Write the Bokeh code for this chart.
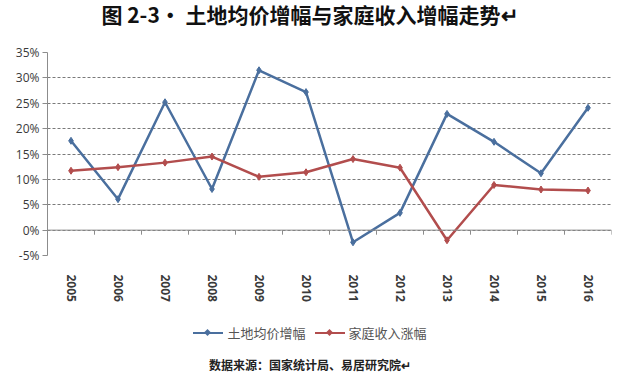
from bokeh.plotting import figure
from bokeh.models import Range1d, FixedTicker, LinearAxis, Span, Grid, Div
from bokeh.layouts import column
from bokeh.embed import file_html
from bokeh.resources import INLINE

years = ["2005", "2006", "2007", "2008", "2009", "2010", "2011", "2012", "2013", "2014", "2015", "2016"]
land_price_growth = [17.6, 6.1, 25.2, 8.1, 31.5, 27.2, -2.4, 3.4, 22.9, 17.4, 11.2, 24.1]
income_growth = [11.7, 12.4, 13.3, 14.5, 10.5, 11.4, 14.0, 12.3, -2.0, 8.9, 8.0, 7.8]
y_ticks = [-5, 0, 5, 10, 15, 20, 25, 30, 35]
series_names = ["土地均价增幅", "家庭收入涨幅"]
title_text = "图 2-3· 土地均价增幅与家庭收入增幅走势↵"
source_text = "数据来源：国家统计局、易居研究院↵"

idx = list(range(1, len(years) + 1))
bounds = [i - 0.5 for i in idx] + [idx[-1] + 0.5]

BLUE = "#4a6f9e"
RED = "#b24d4d"
TXT = "#3a3a3a"
AX = "#8c8c8c"
FONT = "Open Sans"
CJK = "Noto Sans CJK SC"
COLORS = [BLUE, RED]

FW, FH = 564, 203
p = figure(frame_width=FW, frame_height=FH, output_backend="svg", toolbar_location=None,
           x_range=Range1d(0.5, 12.5), y_range=Range1d(-5, 35),
           x_axis_type=None, y_axis_type=None,
           min_border_left=47, min_border_right=9, min_border_top=10, min_border_bottom=45)
p.outline_line_color = None
p.background_fill_color = "white"
p.margin = 0

# y axis
yax = LinearAxis(ticker=FixedTicker(ticks=y_ticks))
yax.major_label_overrides = {v: f"{v}%" for v in y_ticks}
yax.axis_line_color = AX
yax.major_tick_line_color = AX
yax.major_tick_out = 5
yax.major_tick_in = 0
yax.minor_tick_line_color = None
yax.major_label_text_font = FONT
yax.major_label_text_font_size = "12px"
yax.major_label_text_color = TXT
yax.major_label_standoff = 3
p.add_layout(yax, "left")

# bottom labels axis
xax = LinearAxis(ticker=FixedTicker(ticks=idx))
xax.major_label_overrides = {i: y for i, y in zip(idx, years)}
xax.axis_line_color = None
xax.major_tick_line_color = None
xax.minor_tick_line_color = None
xax.major_label_orientation = "vertical"
xax.major_label_text_font = FONT
xax.major_label_text_font_size = "12px"
xax.major_label_text_font_style = "bold"
xax.major_label_text_color = TXT
xax.major_label_standoff = 13
p.add_layout(xax, "below")

grid = Grid(dimension=1, ticker=FixedTicker(ticks=y_ticks),
            grid_line_color="#7a7a7a", grid_line_dash="3 2", grid_line_width=1)
p.add_layout(grid)

# zero line with category-boundary ticks
p.add_layout(Span(location=0, dimension="width", line_color=AX, line_width=1))
tick_len = 0.9
p.segment(x0=bounds, y0=[0] * len(bounds), x1=bounds, y1=[-tick_len] * len(bounds),
          line_color=AX, line_width=1)

p.line(idx, land_price_growth, line_color=BLUE, line_width=2.5)
p.scatter(idx, land_price_growth, marker="diamond", size=7, fill_color=BLUE, line_color=BLUE)
p.line(idx, income_growth, line_color=RED, line_width=2.5)
p.scatter(idx, income_growth, marker="diamond", size=7, fill_color=RED, line_color=RED)


def legend_entry(name, color, gap):
    return (
        f'<span style="display:inline-block;position:relative;width:30px;height:12px;'
        f'vertical-align:middle;margin-left:{gap}px;">'
        f'<span style="position:absolute;left:0;top:5px;width:30px;height:2px;background:{color};"></span>'
        f'<span style="position:absolute;left:12px;top:3px;width:5px;height:5px;background:{color};'
        f'transform:rotate(45deg);"></span></span>'
        f'<span style="margin-left:4px;vertical-align:middle;">{name}</span>'
    )


legend_html = "".join(legend_entry(n, c, 0 if i == 0 else 9)
                      for i, (n, c) in enumerate(zip(series_names, COLORS)))

title_div = Div(text=title_text, width=620, height=42, margin=0,
                styles={"font-family": CJK, "font-size": "21px", "font-weight": "bold",
                        "line-height": "28px", "text-align": "center", "color": "#111111",
                        "width": "620px"})
legend_div = Div(text=legend_html, width=620, height=40, margin=0,
                 styles={"font-family": CJK, "font-size": "13px", "line-height": "16px",
                         "padding-top": "20px", "text-align": "center", "color": "#555555",
                         "width": "611px", "padding-left": "9px"})
src_div = Div(text=source_text, width=620, height=30, margin=0,
              styles={"font-family": CJK, "font-size": "12px", "font-weight": "bold",
                      "line-height": "14px", "padding-top": "14px", "text-align": "center",
                      "color": "#222222", "width": "620px"})

layout = column(title_div, p, legend_div, src_div, spacing=0)
open("out.html", "w").write(file_html(layout, INLINE))
